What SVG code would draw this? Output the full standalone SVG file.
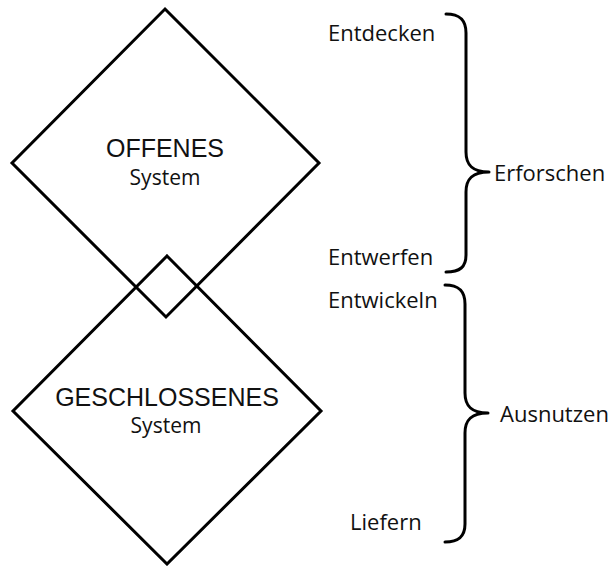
<svg xmlns="http://www.w3.org/2000/svg" width="614" height="566" viewBox="0 0 614 566">
<style>
.d{fill:none;stroke:#000;stroke-width:3;stroke-linejoin:miter}
.b{fill:none;stroke:#000;stroke-width:3;stroke-linecap:round;stroke-linejoin:round}
.a{font-family:"Liberation Sans",Arial,sans-serif;font-size:25px;fill:#111;text-anchor:middle}
.c{font-family:"Open Sans","Noto Sans",sans-serif;font-size:21px;fill:#111}
.cm{text-anchor:middle}
</style>
<rect width="614" height="566" fill="#fff"/>
<g id="offenes">
<polygon class="d" points="165,9 319,163 166,317 12,163"/>
<text class="a" x="165" y="157">OFFENES</text>
<text class="c cm" x="165" y="185">System</text>
</g>
<g id="geschlossenes">
<polygon class="d" points="167,256 321,411 167,564 13,411"/>
<text class="a" x="167" y="406">GESCHLOSSENES</text>
<text class="c cm" x="166" y="433">System</text>
</g>
<g id="connectors">
<path class="b" d="M446,14 C460,14 466,20 466,33 L466,152 C466,165 472,172 489,172 C472,172 466,179 466,192 L466,255 C466,267 460,272 446,272"/>
<path class="b" d="M445,285 C459,285 465,291 465,304 L465,393 C465,406 471,413 488,413 C471,413 465,420 465,433 L465,524 C465,536 459,542 445,542"/>
</g>
<g id="labels">
<text class="c" x="328" y="41" style="font-size:22px">Entdecken</text>
<text class="c" x="328" y="265" style="font-size:22px">Entwerfen</text>
<text class="c" x="328" y="308" style="font-size:22px">Entwickeln</text>
<text class="c" x="350" y="530" style="font-size:22px">Liefern</text>
<text class="c" x="494" y="181" style="font-size:22px">Erforschen</text>
<text class="c" x="500" y="422" style="font-size:22px">Ausnutzen</text>
</g>
</svg>
